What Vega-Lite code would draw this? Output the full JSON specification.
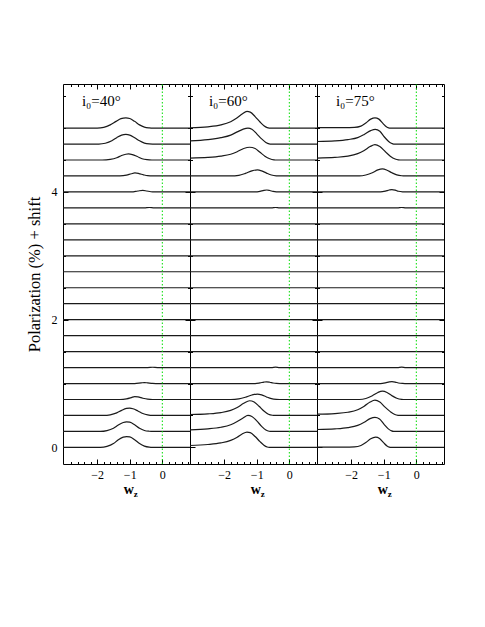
{
  "$schema": "https://vega.github.io/schema/vega-lite/v6.json",
  "background": "white",
  "padding": {"left": 25, "top": 83, "right": 5, "bottom": 5},
  "spacing": 0,
  "bounds": "flush",
  "config": {
    "view": {"stroke": "black", "strokeWidth": 1},
    "font": "Liberation Serif",
    "axis": {"domain": false, "grid": false, "tickColor": "black", "tickWidth": 1, "labelFont": "Liberation Serif", "labelFontSize": 12, "labelColor": "black", "titleFont": "Liberation Serif", "titleFontSize": 16.5, "titleFontWeight": "normal", "titleColor": "black", "labelFlush": false}
  },
  "datasets": {
    "d40": [
      {"s":0,"w":-3.05,"y":0},{"s":0,"w":-1.9,"y":0},{"s":0,"w":-1.7,"y":0.015},{"s":0,"w":-1.5,"y":0.06},{"s":0,"w":-1.35,"y":0.12},{"s":0,"w":-1.2,"y":0.16},{"s":0,"w":-1.1,"y":0.17},{"s":0,"w":-1.0,"y":0.165},{"s":0,"w":-0.85,"y":0.12},{"s":0,"w":-0.7,"y":0.06},{"s":0,"w":-0.55,"y":0.02},{"s":0,"w":-0.4,"y":0.003},{"s":0,"w":-0.3,"y":0},{"s":0,"w":0.85,"y":0},
      {"s":0.25,"w":-3.05,"y":0.25},{"s":0.25,"w":-1.9,"y":0.25},{"s":0.25,"w":-1.7,"y":0.263},{"s":0.25,"w":-1.5,"y":0.3},{"s":0.25,"w":-1.35,"y":0.35},{"s":0.25,"w":-1.2,"y":0.39},{"s":0.25,"w":-1.1,"y":0.4},{"s":0.25,"w":-1.0,"y":0.395},{"s":0.25,"w":-0.85,"y":0.355},{"s":0.25,"w":-0.7,"y":0.3},{"s":0.25,"w":-0.55,"y":0.265},{"s":0.25,"w":-0.4,"y":0.253},{"s":0.25,"w":-0.3,"y":0.25},{"s":0.25,"w":0.85,"y":0.25},
      {"s":0.5,"w":-3.05,"y":0.5},{"s":0.5,"w":-1.8,"y":0.5},{"s":0.5,"w":-1.6,"y":0.51},{"s":0.5,"w":-1.4,"y":0.54},{"s":0.5,"w":-1.25,"y":0.58},{"s":0.5,"w":-1.1,"y":0.61},{"s":0.5,"w":-1.0,"y":0.615},{"s":0.5,"w":-0.9,"y":0.605},{"s":0.5,"w":-0.75,"y":0.57},{"s":0.5,"w":-0.6,"y":0.53},{"s":0.5,"w":-0.45,"y":0.508},{"s":0.5,"w":-0.3,"y":0.5},{"s":0.5,"w":0.85,"y":0.5},
      {"s":0.75,"w":-3.05,"y":0.75},{"s":0.75,"w":-1.3,"y":0.75},{"s":0.75,"w":-1.1,"y":0.76},{"s":0.75,"w":-0.95,"y":0.78},{"s":0.75,"w":-0.85,"y":0.795},{"s":0.75,"w":-0.75,"y":0.79},{"s":0.75,"w":-0.6,"y":0.77},{"s":0.75,"w":-0.45,"y":0.755},{"s":0.75,"w":-0.3,"y":0.75},{"s":0.75,"w":0.85,"y":0.75},
      {"s":1,"w":-3.05,"y":1},{"s":1,"w":-0.85,"y":1},{"s":1,"w":-0.65,"y":1.01},{"s":1,"w":-0.55,"y":1.015},{"s":1,"w":-0.45,"y":1.01},{"s":1,"w":-0.3,"y":1.002},{"s":1,"w":-0.2,"y":1},{"s":1,"w":0.85,"y":1},
      {"s":1.25,"w":-3.05,"y":1.25},{"s":1.25,"w":-0.45,"y":1.25},{"s":1.25,"w":-0.3,"y":1.255},{"s":1.25,"w":-0.15,"y":1.25},{"s":1.25,"w":0.85,"y":1.25},
      {"s":1.5,"w":-3.05,"y":1.5},{"s":1.5,"w":0.85,"y":1.5},
      {"s":1.75,"w":-3.05,"y":1.75},{"s":1.75,"w":0.85,"y":1.75},
      {"s":2,"w":-3.05,"y":2},{"s":2,"w":0.85,"y":2},
      {"s":2.25,"w":-3.05,"y":2.25},{"s":2.25,"w":0.85,"y":2.25},
      {"s":2.5,"w":-3.05,"y":2.5},{"s":2.5,"w":0.85,"y":2.5},
      {"s":2.75,"w":-3.05,"y":2.75},{"s":2.75,"w":0.85,"y":2.75},
      {"s":3,"w":-3.05,"y":3},{"s":3,"w":0.85,"y":3},
      {"s":3.25,"w":-3.05,"y":3.25},{"s":3.25,"w":0.85,"y":3.25},
      {"s":3.5,"w":-3.05,"y":3.5},{"s":3.5,"w":0.85,"y":3.5},
      {"s":3.75,"w":-3.05,"y":3.75},{"s":3.75,"w":-0.55,"y":3.75},{"s":3.75,"w":-0.4,"y":3.756},{"s":3.75,"w":-0.25,"y":3.75},{"s":3.75,"w":0.85,"y":3.75},
      {"s":4,"w":-3.05,"y":4},{"s":4,"w":-0.95,"y":4},{"s":4,"w":-0.75,"y":4.015},{"s":4,"w":-0.6,"y":4.025},{"s":4,"w":-0.48,"y":4.015},{"s":4,"w":-0.35,"y":4.003},{"s":4,"w":-0.25,"y":4},{"s":4,"w":0.85,"y":4},
      {"s":4.25,"w":-3.05,"y":4.25},{"s":4.25,"w":-1.3,"y":4.25},{"s":4.25,"w":-1.1,"y":4.262},{"s":4.25,"w":-0.95,"y":4.285},{"s":4.25,"w":-0.84,"y":4.297},{"s":4.25,"w":-0.72,"y":4.288},{"s":4.25,"w":-0.58,"y":4.268},{"s":4.25,"w":-0.45,"y":4.254},{"s":4.25,"w":-0.3,"y":4.25},{"s":4.25,"w":0.85,"y":4.25},
      {"s":4.5,"w":-3.05,"y":4.5},{"s":4.5,"w":-1.85,"y":4.5},{"s":4.5,"w":-1.6,"y":4.51},{"s":4.5,"w":-1.4,"y":4.535},{"s":4.5,"w":-1.25,"y":4.57},{"s":4.5,"w":-1.12,"y":4.59},{"s":4.5,"w":-1.04,"y":4.595},{"s":4.5,"w":-0.92,"y":4.585},{"s":4.5,"w":-0.77,"y":4.555},{"s":4.5,"w":-0.62,"y":4.52},{"s":4.5,"w":-0.47,"y":4.505},{"s":4.5,"w":-0.32,"y":4.5},{"s":4.5,"w":0.85,"y":4.5},
      {"s":4.75,"w":-3.05,"y":4.75},{"s":4.75,"w":-1.95,"y":4.75},{"s":4.75,"w":-1.75,"y":4.762},{"s":4.75,"w":-1.55,"y":4.8},{"s":4.75,"w":-1.4,"y":4.85},{"s":4.75,"w":-1.25,"y":4.89},{"s":4.75,"w":-1.12,"y":4.9},{"s":4.75,"w":-1.0,"y":4.89},{"s":4.75,"w":-0.85,"y":4.85},{"s":4.75,"w":-0.7,"y":4.8},{"s":4.75,"w":-0.55,"y":4.765},{"s":4.75,"w":-0.4,"y":4.752},{"s":4.75,"w":-0.3,"y":4.75},{"s":4.75,"w":0.85,"y":4.75},
      {"s":5,"w":-3.05,"y":5},{"s":5,"w":-2.0,"y":5},{"s":5,"w":-1.8,"y":5.012},{"s":5,"w":-1.6,"y":5.05},{"s":5,"w":-1.42,"y":5.105},{"s":5,"w":-1.27,"y":5.148},{"s":5,"w":-1.12,"y":5.16},{"s":5,"w":-1.0,"y":5.15},{"s":5,"w":-0.85,"y":5.105},{"s":5,"w":-0.7,"y":5.05},{"s":5,"w":-0.55,"y":5.015},{"s":5,"w":-0.4,"y":5.003},{"s":5,"w":-0.3,"y":5},{"s":5,"w":0.85,"y":5}
    ],
    "d60": [
      {"s":0,"w":-3.05,"y":0.03},{"s":0,"w":-2.5,"y":0.045},{"s":0,"w":-2.1,"y":0.07},{"s":0,"w":-1.8,"y":0.11},{"s":0,"w":-1.6,"y":0.16},{"s":0,"w":-1.45,"y":0.21},{"s":0,"w":-1.3,"y":0.24},{"s":0,"w":-1.2,"y":0.232},{"s":0,"w":-1.05,"y":0.17},{"s":0,"w":-0.9,"y":0.09},{"s":0,"w":-0.78,"y":0.035},{"s":0,"w":-0.68,"y":0.007},{"s":0,"w":-0.62,"y":0},{"s":0,"w":0.85,"y":0},
      {"s":0.25,"w":-3.05,"y":0.275},{"s":0.25,"w":-2.5,"y":0.29},{"s":0.25,"w":-2.1,"y":0.315},{"s":0.25,"w":-1.8,"y":0.355},{"s":0.25,"w":-1.6,"y":0.405},{"s":0.25,"w":-1.42,"y":0.46},{"s":0.25,"w":-1.27,"y":0.5},{"s":0.25,"w":-1.15,"y":0.485},{"s":0.25,"w":-1.0,"y":0.415},{"s":0.25,"w":-0.85,"y":0.33},{"s":0.25,"w":-0.72,"y":0.272},{"s":0.25,"w":-0.62,"y":0.253},{"s":0.25,"w":-0.56,"y":0.25},{"s":0.25,"w":0.85,"y":0.25},
      {"s":0.5,"w":-3.05,"y":0.515},{"s":0.5,"w":-2.5,"y":0.525},{"s":0.5,"w":-2.1,"y":0.545},{"s":0.5,"w":-1.8,"y":0.58},{"s":0.5,"w":-1.6,"y":0.625},{"s":0.5,"w":-1.4,"y":0.69},{"s":0.5,"w":-1.22,"y":0.73},{"s":0.5,"w":-1.08,"y":0.71},{"s":0.5,"w":-0.93,"y":0.645},{"s":0.5,"w":-0.78,"y":0.57},{"s":0.5,"w":-0.64,"y":0.52},{"s":0.5,"w":-0.52,"y":0.503},{"s":0.5,"w":-0.46,"y":0.5},{"s":0.5,"w":0.85,"y":0.5},
      {"s":0.75,"w":-3.05,"y":0.75},{"s":0.75,"w":-1.8,"y":0.75},{"s":0.75,"w":-1.55,"y":0.76},{"s":0.75,"w":-1.35,"y":0.785},{"s":0.75,"w":-1.15,"y":0.82},{"s":0.75,"w":-0.98,"y":0.835},{"s":0.75,"w":-0.85,"y":0.822},{"s":0.75,"w":-0.7,"y":0.79},{"s":0.75,"w":-0.55,"y":0.763},{"s":0.75,"w":-0.4,"y":0.752},{"s":0.75,"w":-0.3,"y":0.75},{"s":0.75,"w":0.85,"y":0.75},
      {"s":1,"w":-3.05,"y":1},{"s":1,"w":-1.05,"y":1},{"s":1,"w":-0.9,"y":1.01},{"s":1,"w":-0.78,"y":1.022},{"s":1,"w":-0.7,"y":1.027},{"s":1,"w":-0.6,"y":1.02},{"s":1,"w":-0.5,"y":1.008},{"s":1,"w":-0.4,"y":1.001},{"s":1,"w":-0.3,"y":1},{"s":1,"w":0.85,"y":1},
      {"s":1.25,"w":-3.05,"y":1.25},{"s":1.25,"w":-0.55,"y":1.25},{"s":1.25,"w":-0.42,"y":1.256},{"s":1.25,"w":-0.3,"y":1.25},{"s":1.25,"w":0.85,"y":1.25},
      {"s":1.5,"w":-3.05,"y":1.5},{"s":1.5,"w":0.85,"y":1.5},
      {"s":1.75,"w":-3.05,"y":1.75},{"s":1.75,"w":0.85,"y":1.75},
      {"s":2,"w":-3.05,"y":2},{"s":2,"w":0.85,"y":2},
      {"s":2.25,"w":-3.05,"y":2.25},{"s":2.25,"w":0.85,"y":2.25},
      {"s":2.5,"w":-3.05,"y":2.5},{"s":2.5,"w":0.85,"y":2.5},
      {"s":2.75,"w":-3.05,"y":2.75},{"s":2.75,"w":0.85,"y":2.75},
      {"s":3,"w":-3.05,"y":3},{"s":3,"w":0.85,"y":3},
      {"s":3.25,"w":-3.05,"y":3.25},{"s":3.25,"w":0.85,"y":3.25},
      {"s":3.5,"w":-3.05,"y":3.5},{"s":3.5,"w":0.85,"y":3.5},
      {"s":3.75,"w":-3.05,"y":3.75},{"s":3.75,"w":-0.55,"y":3.75},{"s":3.75,"w":-0.42,"y":3.756},{"s":3.75,"w":-0.3,"y":3.75},{"s":3.75,"w":0.85,"y":3.75},
      {"s":4,"w":-3.05,"y":4},{"s":4,"w":-1.05,"y":4},{"s":4,"w":-0.9,"y":4.01},{"s":4,"w":-0.78,"y":4.025},{"s":4,"w":-0.69,"y":4.03},{"s":4,"w":-0.6,"y":4.022},{"s":4,"w":-0.5,"y":4.008},{"s":4,"w":-0.4,"y":4.001},{"s":4,"w":-0.3,"y":4},{"s":4,"w":0.85,"y":4},
      {"s":4.25,"w":-3.05,"y":4.25},{"s":4.25,"w":-1.8,"y":4.25},{"s":4.25,"w":-1.55,"y":4.26},{"s":4.25,"w":-1.35,"y":4.29},{"s":4.25,"w":-1.15,"y":4.33},{"s":4.25,"w":-0.98,"y":4.345},{"s":4.25,"w":-0.85,"y":4.33},{"s":4.25,"w":-0.7,"y":4.295},{"s":4.25,"w":-0.55,"y":4.265},{"s":4.25,"w":-0.4,"y":4.252},{"s":4.25,"w":-0.3,"y":4.25},{"s":4.25,"w":0.85,"y":4.25},
      {"s":4.5,"w":-3.05,"y":4.53},{"s":4.5,"w":-2.5,"y":4.54},{"s":4.5,"w":-2.1,"y":4.56},{"s":4.5,"w":-1.8,"y":4.59},{"s":4.5,"w":-1.6,"y":4.63},{"s":4.5,"w":-1.4,"y":4.68},{"s":4.5,"w":-1.22,"y":4.7},{"s":4.5,"w":-1.05,"y":4.68},{"s":4.5,"w":-0.9,"y":4.62},{"s":4.5,"w":-0.75,"y":4.56},{"s":4.5,"w":-0.6,"y":4.52},{"s":4.5,"w":-0.47,"y":4.503},{"s":4.5,"w":-0.4,"y":4.5},{"s":4.5,"w":0.85,"y":4.5},
      {"s":4.75,"w":-3.05,"y":4.8},{"s":4.75,"w":-2.5,"y":4.82},{"s":4.75,"w":-2.1,"y":4.85},{"s":4.75,"w":-1.8,"y":4.89},{"s":4.75,"w":-1.6,"y":4.94},{"s":4.75,"w":-1.43,"y":4.98},{"s":4.75,"w":-1.27,"y":5.0},{"s":4.75,"w":-1.15,"y":4.982},{"s":4.75,"w":-1.0,"y":4.91},{"s":4.75,"w":-0.85,"y":4.83},{"s":4.75,"w":-0.72,"y":4.775},{"s":4.75,"w":-0.62,"y":4.753},{"s":4.75,"w":-0.56,"y":4.75},{"s":4.75,"w":0.85,"y":4.75},
      {"s":5,"w":-3.05,"y":5.005},{"s":5,"w":-2.5,"y":5.02},{"s":5,"w":-2.1,"y":5.05},{"s":5,"w":-1.8,"y":5.1},{"s":5,"w":-1.6,"y":5.16},{"s":5,"w":-1.45,"y":5.22},{"s":5,"w":-1.3,"y":5.26},{"s":5,"w":-1.2,"y":5.25},{"s":5,"w":-1.05,"y":5.18},{"s":5,"w":-0.9,"y":5.095},{"s":5,"w":-0.78,"y":5.035},{"s":5,"w":-0.68,"y":5.006},{"s":5,"w":-0.62,"y":5},{"s":5,"w":0.85,"y":5}
    ],
    "d75": [
      {"s":0,"w":-3.05,"y":0.005},{"s":0,"w":-2.2,"y":0.005},{"s":0,"w":-1.9,"y":0.008},{"s":0,"w":-1.7,"y":0.03},{"s":0,"w":-1.55,"y":0.075},{"s":0,"w":-1.4,"y":0.135},{"s":0,"w":-1.25,"y":0.16},{"s":0,"w":-1.13,"y":0.14},{"s":0,"w":-1.0,"y":0.07},{"s":0,"w":-0.9,"y":0.022},{"s":0,"w":-0.83,"y":0.004},{"s":0,"w":-0.78,"y":0},{"s":0,"w":0.85,"y":0},
      {"s":0.25,"w":-3.05,"y":0.28},{"s":0.25,"w":-2.5,"y":0.29},{"s":0.25,"w":-2.1,"y":0.31},{"s":0.25,"w":-1.8,"y":0.345},{"s":0.25,"w":-1.6,"y":0.395},{"s":0.25,"w":-1.42,"y":0.45},{"s":0.25,"w":-1.27,"y":0.47},{"s":0.25,"w":-1.13,"y":0.445},{"s":0.25,"w":-0.99,"y":0.36},{"s":0.25,"w":-0.86,"y":0.29},{"s":0.25,"w":-0.76,"y":0.258},{"s":0.25,"w":-0.7,"y":0.25},{"s":0.25,"w":0.85,"y":0.25},
      {"s":0.5,"w":-3.05,"y":0.52},{"s":0.5,"w":-2.5,"y":0.53},{"s":0.5,"w":-2.1,"y":0.55},{"s":0.5,"w":-1.8,"y":0.59},{"s":0.5,"w":-1.6,"y":0.645},{"s":0.5,"w":-1.42,"y":0.71},{"s":0.5,"w":-1.27,"y":0.74},{"s":0.5,"w":-1.12,"y":0.71},{"s":0.5,"w":-0.96,"y":0.63},{"s":0.5,"w":-0.8,"y":0.56},{"s":0.5,"w":-0.66,"y":0.515},{"s":0.5,"w":-0.56,"y":0.502},{"s":0.5,"w":-0.5,"y":0.5},{"s":0.5,"w":0.85,"y":0.5},
      {"s":0.75,"w":-3.05,"y":0.75},{"s":0.75,"w":-1.75,"y":0.75},{"s":0.75,"w":-1.55,"y":0.765},{"s":0.75,"w":-1.35,"y":0.81},{"s":0.75,"w":-1.18,"y":0.86},{"s":0.75,"w":-1.04,"y":0.88},{"s":0.75,"w":-0.9,"y":0.86},{"s":0.75,"w":-0.75,"y":0.81},{"s":0.75,"w":-0.6,"y":0.77},{"s":0.75,"w":-0.45,"y":0.753},{"s":0.75,"w":-0.35,"y":0.75},{"s":0.75,"w":0.85,"y":0.75},
      {"s":1,"w":-3.05,"y":1},{"s":1,"w":-1.1,"y":1},{"s":1,"w":-0.95,"y":1.01},{"s":1,"w":-0.83,"y":1.025},{"s":1,"w":-0.75,"y":1.03},{"s":1,"w":-0.65,"y":1.023},{"s":1,"w":-0.55,"y":1.008},{"s":1,"w":-0.42,"y":1.001},{"s":1,"w":-0.35,"y":1},{"s":1,"w":0.85,"y":1},
      {"s":1.25,"w":-3.05,"y":1.25},{"s":1.25,"w":-0.58,"y":1.25},{"s":1.25,"w":-0.45,"y":1.256},{"s":1.25,"w":-0.32,"y":1.25},{"s":1.25,"w":0.85,"y":1.25},
      {"s":1.5,"w":-3.05,"y":1.5},{"s":1.5,"w":0.85,"y":1.5},
      {"s":1.75,"w":-3.05,"y":1.75},{"s":1.75,"w":0.85,"y":1.75},
      {"s":2,"w":-3.05,"y":2},{"s":2,"w":0.85,"y":2},
      {"s":2.25,"w":-3.05,"y":2.25},{"s":2.25,"w":0.85,"y":2.25},
      {"s":2.5,"w":-3.05,"y":2.5},{"s":2.5,"w":0.85,"y":2.5},
      {"s":2.75,"w":-3.05,"y":2.75},{"s":2.75,"w":0.85,"y":2.75},
      {"s":3,"w":-3.05,"y":3},{"s":3,"w":0.85,"y":3},
      {"s":3.25,"w":-3.05,"y":3.25},{"s":3.25,"w":0.85,"y":3.25},
      {"s":3.5,"w":-3.05,"y":3.5},{"s":3.5,"w":0.85,"y":3.5},
      {"s":3.75,"w":-3.05,"y":3.75},{"s":3.75,"w":-0.58,"y":3.75},{"s":3.75,"w":-0.45,"y":3.756},{"s":3.75,"w":-0.32,"y":3.75},{"s":3.75,"w":0.85,"y":3.75},
      {"s":4,"w":-3.05,"y":4},{"s":4,"w":-1.1,"y":4},{"s":4,"w":-0.95,"y":4.012},{"s":4,"w":-0.83,"y":4.03},{"s":4,"w":-0.75,"y":4.037},{"s":4,"w":-0.65,"y":4.028},{"s":4,"w":-0.55,"y":4.01},{"s":4,"w":-0.42,"y":4.001},{"s":4,"w":-0.35,"y":4},{"s":4,"w":0.85,"y":4},
      {"s":4.25,"w":-3.05,"y":4.25},{"s":4.25,"w":-1.75,"y":4.25},{"s":4.25,"w":-1.55,"y":4.265},{"s":4.25,"w":-1.35,"y":4.3},{"s":4.25,"w":-1.18,"y":4.345},{"s":4.25,"w":-1.04,"y":4.36},{"s":4.25,"w":-0.9,"y":4.34},{"s":4.25,"w":-0.75,"y":4.3},{"s":4.25,"w":-0.6,"y":4.268},{"s":4.25,"w":-0.45,"y":4.253},{"s":4.25,"w":-0.35,"y":4.25},{"s":4.25,"w":0.85,"y":4.25},
      {"s":4.5,"w":-3.05,"y":4.53},{"s":4.5,"w":-2.5,"y":4.54},{"s":4.5,"w":-2.1,"y":4.56},{"s":4.5,"w":-1.8,"y":4.6},{"s":4.5,"w":-1.6,"y":4.65},{"s":4.5,"w":-1.42,"y":4.71},{"s":4.5,"w":-1.27,"y":4.74},{"s":4.5,"w":-1.12,"y":4.71},{"s":4.5,"w":-0.95,"y":4.63},{"s":4.5,"w":-0.8,"y":4.56},{"s":4.5,"w":-0.65,"y":4.515},{"s":4.5,"w":-0.55,"y":4.502},{"s":4.5,"w":-0.5,"y":4.5},{"s":4.5,"w":0.85,"y":4.5},
      {"s":4.75,"w":-3.05,"y":4.79},{"s":4.75,"w":-2.5,"y":4.8},{"s":4.75,"w":-2.1,"y":4.82},{"s":4.75,"w":-1.8,"y":4.85},{"s":4.75,"w":-1.6,"y":4.9},{"s":4.75,"w":-1.4,"y":4.96},{"s":4.75,"w":-1.26,"y":4.98},{"s":4.75,"w":-1.12,"y":4.95},{"s":4.75,"w":-0.98,"y":4.86},{"s":4.75,"w":-0.85,"y":4.79},{"s":4.75,"w":-0.75,"y":4.758},{"s":4.75,"w":-0.7,"y":4.75},{"s":4.75,"w":0.85,"y":4.75},
      {"s":5,"w":-3.05,"y":5.007},{"s":5,"w":-2.2,"y":5.007},{"s":5,"w":-1.9,"y":5.01},{"s":5,"w":-1.7,"y":5.03},{"s":5,"w":-1.55,"y":5.08},{"s":5,"w":-1.4,"y":5.14},{"s":5,"w":-1.27,"y":5.16},{"s":5,"w":-1.15,"y":5.14},{"s":5,"w":-1.02,"y":5.07},{"s":5,"w":-0.92,"y":5.02},{"s":5,"w":-0.85,"y":5.003},{"s":5,"w":-0.8,"y":5},{"s":5,"w":0.85,"y":5}
    ]
  },
  "hconcat": [
    {
      "width": 127, "height": 380,
      "resolve": {"axis": {"x": "independent", "y": "independent"}},
      "layer": [
        {
          "data": {"name": "d40"},
          "mark": {"type": "line", "interpolate": "monotone", "color": "#1a1a1a", "strokeWidth": 1.2},
          "encoding": {
            "x": {"field": "w", "type": "quantitative", "scale": {"domain": [-3.05, 0.85], "nice": false, "zero": false}, "axis": {"orient": "bottom", "values": [-2, -1, 0], "tickSize": -5, "labelPadding": 10, "title": null}},
            "y": {"field": "y", "type": "quantitative", "scale": {"domain": [-0.26, 5.69], "nice": false, "zero": false}, "axis": {"orient": "left", "values": [0, 2, 4], "tickSize": -5, "labelPadding": 11, "title": "Polarization (%) + shift", "titlePadding": 9}},
            "detail": {"field": "s", "type": "nominal"}
          }
        },
        {
          "data": {"values": [{}]},
          "mark": {"type": "rule", "color": "#00dd00", "strokeWidth": 1, "strokeDash": [1.5, 2]},
          "encoding": {
            "x": {"datum": 0, "type": "quantitative", "scale": {"domain": [-3.05, 0.85], "nice": false, "zero": false}, "axis": {"orient": "top", "values": [-2, -1, 0], "tickSize": -5, "labels": false, "title": null}},
            "y": {"datum": -0.26, "type": "quantitative", "scale": {"domain": [-0.26, 5.69], "nice": false, "zero": false}, "axis": {"orient": "right", "values": [0, 2, 4], "tickSize": -5, "labels": false, "title": null}},
            "y2": {"datum": 5.69}
          }
        },
        {
          "data": {"values": [{}]},
          "mark": {"type": "text", "text": "i₀=40°", "align": "left", "baseline": "middle", "fontSize": 15, "font": "Liberation Serif", "color": "black"},
          "encoding": {
            "x": {"datum": -2.47, "type": "quantitative", "scale": {"domain": [-3.05, 0.85], "nice": false, "zero": false}, "axis": {"orient": "bottom", "values": [-2.8,-2.6,-2.4,-2.2,-1.8,-1.6,-1.4,-1.2,-0.8,-0.6,-0.4,-0.2,0.2,0.4,0.6,0.8], "tickSize": -2.5, "labels": false, "title": null}},
            "y": {"datum": 5.43, "type": "quantitative", "scale": {"domain": [-0.26, 5.69], "nice": false, "zero": false}, "axis": {"orient": "left", "values": [0.5,1,1.5,2.5,3,3.5,4.5,5,5.5], "tickSize": -2.5, "labels": false, "title": null}}
          }
        },
        {
          "data": {"values": [{}]},
          "mark": {"type": "text", "text": "w", "align": "center", "baseline": "alphabetic", "fontSize": 14, "fontWeight": "bold", "font": "Liberation Serif", "color": "black", "dy": 30, "dx": -1},
          "encoding": {
            "x": {"datum": -1, "type": "quantitative", "scale": {"domain": [-3.05, 0.85], "nice": false, "zero": false}, "axis": {"orient": "top", "values": [-2.8,-2.6,-2.4,-2.2,-1.8,-1.6,-1.4,-1.2,-0.8,-0.6,-0.4,-0.2,0.2,0.4,0.6,0.8], "tickSize": -2.5, "labels": false, "title": null}},
            "y": {"datum": -0.26, "type": "quantitative", "scale": {"domain": [-0.26, 5.69], "nice": false, "zero": false}, "axis": {"orient": "right", "values": [0.5,1,1.5,2.5,3,3.5,4.5,5,5.5], "tickSize": -2.5, "labels": false, "title": null}}
          }
        },
        {
          "data": {"values": [{}]},
          "mark": {"type": "text", "text": "z", "align": "left", "baseline": "alphabetic", "fontSize": 9, "fontWeight": "bold", "font": "Liberation Serif", "color": "black", "dy": 33, "dx": 4},
          "encoding": {
            "x": {"datum": -1, "type": "quantitative", "scale": {"domain": [-3.05, 0.85], "nice": false, "zero": false}, "axis": null},
            "y": {"datum": -0.26, "type": "quantitative", "scale": {"domain": [-0.26, 5.69], "nice": false, "zero": false}, "axis": null}
          }
        }
      ]
    },
    {
      "width": 127, "height": 380,
      "resolve": {"axis": {"x": "independent", "y": "independent"}},
      "layer": [
        {
          "data": {"name": "d60"},
          "mark": {"type": "line", "interpolate": "monotone", "color": "#1a1a1a", "strokeWidth": 1.2},
          "encoding": {
            "x": {"field": "w", "type": "quantitative", "scale": {"domain": [-3.05, 0.85], "nice": false, "zero": false}, "axis": {"orient": "bottom", "values": [-2, -1, 0], "tickSize": -5, "labelPadding": 10, "title": null}},
            "y": {"field": "y", "type": "quantitative", "scale": {"domain": [-0.26, 5.69], "nice": false, "zero": false}, "axis": {"orient": "left", "values": [0, 2, 4], "tickSize": -5, "labels": false, "title": null}},
            "detail": {"field": "s", "type": "nominal"}
          }
        },
        {
          "data": {"values": [{}]},
          "mark": {"type": "rule", "color": "#00dd00", "strokeWidth": 1, "strokeDash": [1.5, 2]},
          "encoding": {
            "x": {"datum": 0, "type": "quantitative", "scale": {"domain": [-3.05, 0.85], "nice": false, "zero": false}, "axis": {"orient": "top", "values": [-2, -1, 0], "tickSize": -5, "labels": false, "title": null}},
            "y": {"datum": -0.26, "type": "quantitative", "scale": {"domain": [-0.26, 5.69], "nice": false, "zero": false}, "axis": {"orient": "right", "values": [0, 2, 4], "tickSize": -5, "labels": false, "title": null}},
            "y2": {"datum": 5.69}
          }
        },
        {
          "data": {"values": [{}]},
          "mark": {"type": "text", "text": "i₀=60°", "align": "left", "baseline": "middle", "fontSize": 15, "font": "Liberation Serif", "color": "black"},
          "encoding": {
            "x": {"datum": -2.47, "type": "quantitative", "scale": {"domain": [-3.05, 0.85], "nice": false, "zero": false}, "axis": {"orient": "bottom", "values": [-2.8,-2.6,-2.4,-2.2,-1.8,-1.6,-1.4,-1.2,-0.8,-0.6,-0.4,-0.2,0.2,0.4,0.6,0.8], "tickSize": -2.5, "labels": false, "title": null}},
            "y": {"datum": 5.43, "type": "quantitative", "scale": {"domain": [-0.26, 5.69], "nice": false, "zero": false}, "axis": {"orient": "left", "values": [0.5,1,1.5,2.5,3,3.5,4.5,5,5.5], "tickSize": -2.5, "labels": false, "title": null}}
          }
        },
        {
          "data": {"values": [{}]},
          "mark": {"type": "text", "text": "w", "align": "center", "baseline": "alphabetic", "fontSize": 14, "fontWeight": "bold", "font": "Liberation Serif", "color": "black", "dy": 30, "dx": -1},
          "encoding": {
            "x": {"datum": -1, "type": "quantitative", "scale": {"domain": [-3.05, 0.85], "nice": false, "zero": false}, "axis": {"orient": "top", "values": [-2.8,-2.6,-2.4,-2.2,-1.8,-1.6,-1.4,-1.2,-0.8,-0.6,-0.4,-0.2,0.2,0.4,0.6,0.8], "tickSize": -2.5, "labels": false, "title": null}},
            "y": {"datum": -0.26, "type": "quantitative", "scale": {"domain": [-0.26, 5.69], "nice": false, "zero": false}, "axis": {"orient": "right", "values": [0.5,1,1.5,2.5,3,3.5,4.5,5,5.5], "tickSize": -2.5, "labels": false, "title": null}}
          }
        },
        {
          "data": {"values": [{}]},
          "mark": {"type": "text", "text": "z", "align": "left", "baseline": "alphabetic", "fontSize": 9, "fontWeight": "bold", "font": "Liberation Serif", "color": "black", "dy": 33, "dx": 4},
          "encoding": {
            "x": {"datum": -1, "type": "quantitative", "scale": {"domain": [-3.05, 0.85], "nice": false, "zero": false}, "axis": null},
            "y": {"datum": -0.26, "type": "quantitative", "scale": {"domain": [-0.26, 5.69], "nice": false, "zero": false}, "axis": null}
          }
        }
      ]
    },
    {
      "width": 127, "height": 380,
      "resolve": {"axis": {"x": "independent", "y": "independent"}},
      "layer": [
        {
          "data": {"name": "d75"},
          "mark": {"type": "line", "interpolate": "monotone", "color": "#1a1a1a", "strokeWidth": 1.2},
          "encoding": {
            "x": {"field": "w", "type": "quantitative", "scale": {"domain": [-3.05, 0.85], "nice": false, "zero": false}, "axis": {"orient": "bottom", "values": [-2, -1, 0], "tickSize": -5, "labelPadding": 10, "title": null}},
            "y": {"field": "y", "type": "quantitative", "scale": {"domain": [-0.26, 5.69], "nice": false, "zero": false}, "axis": {"orient": "left", "values": [0, 2, 4], "tickSize": -5, "labels": false, "title": null}},
            "detail": {"field": "s", "type": "nominal"}
          }
        },
        {
          "data": {"values": [{}]},
          "mark": {"type": "rule", "color": "#00dd00", "strokeWidth": 1, "strokeDash": [1.5, 2]},
          "encoding": {
            "x": {"datum": 0, "type": "quantitative", "scale": {"domain": [-3.05, 0.85], "nice": false, "zero": false}, "axis": {"orient": "top", "values": [-2, -1, 0], "tickSize": -5, "labels": false, "title": null}},
            "y": {"datum": -0.26, "type": "quantitative", "scale": {"domain": [-0.26, 5.69], "nice": false, "zero": false}, "axis": {"orient": "right", "values": [0, 2, 4], "tickSize": -5, "labels": false, "title": null}},
            "y2": {"datum": 5.69}
          }
        },
        {
          "data": {"values": [{}]},
          "mark": {"type": "text", "text": "i₀=75°", "align": "left", "baseline": "middle", "fontSize": 15, "font": "Liberation Serif", "color": "black"},
          "encoding": {
            "x": {"datum": -2.47, "type": "quantitative", "scale": {"domain": [-3.05, 0.85], "nice": false, "zero": false}, "axis": {"orient": "bottom", "values": [-2.8,-2.6,-2.4,-2.2,-1.8,-1.6,-1.4,-1.2,-0.8,-0.6,-0.4,-0.2,0.2,0.4,0.6,0.8], "tickSize": -2.5, "labels": false, "title": null}},
            "y": {"datum": 5.43, "type": "quantitative", "scale": {"domain": [-0.26, 5.69], "nice": false, "zero": false}, "axis": {"orient": "left", "values": [0.5,1,1.5,2.5,3,3.5,4.5,5,5.5], "tickSize": -2.5, "labels": false, "title": null}}
          }
        },
        {
          "data": {"values": [{}]},
          "mark": {"type": "text", "text": "w", "align": "center", "baseline": "alphabetic", "fontSize": 14, "fontWeight": "bold", "font": "Liberation Serif", "color": "black", "dy": 30, "dx": -1},
          "encoding": {
            "x": {"datum": -1, "type": "quantitative", "scale": {"domain": [-3.05, 0.85], "nice": false, "zero": false}, "axis": {"orient": "top", "values": [-2.8,-2.6,-2.4,-2.2,-1.8,-1.6,-1.4,-1.2,-0.8,-0.6,-0.4,-0.2,0.2,0.4,0.6,0.8], "tickSize": -2.5, "labels": false, "title": null}},
            "y": {"datum": -0.26, "type": "quantitative", "scale": {"domain": [-0.26, 5.69], "nice": false, "zero": false}, "axis": {"orient": "right", "values": [0.5,1,1.5,2.5,3,3.5,4.5,5,5.5], "tickSize": -2.5, "labels": false, "title": null}}
          }
        },
        {
          "data": {"values": [{}]},
          "mark": {"type": "text", "text": "z", "align": "left", "baseline": "alphabetic", "fontSize": 9, "fontWeight": "bold", "font": "Liberation Serif", "color": "black", "dy": 33, "dx": 4},
          "encoding": {
            "x": {"datum": -1, "type": "quantitative", "scale": {"domain": [-3.05, 0.85], "nice": false, "zero": false}, "axis": null},
            "y": {"datum": -0.26, "type": "quantitative", "scale": {"domain": [-0.26, 5.69], "nice": false, "zero": false}, "axis": null}
          }
        }
      ]
    }
  ]
}
